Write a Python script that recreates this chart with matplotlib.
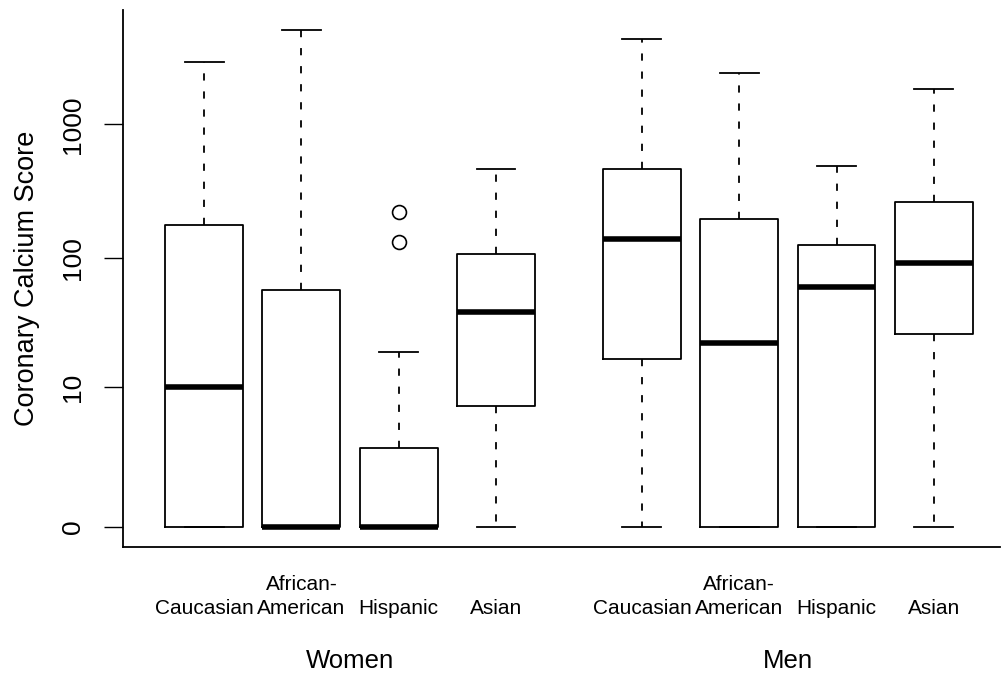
import matplotlib
matplotlib.use("Agg")
import matplotlib.pyplot as plt
import matplotlib.transforms as mtransforms
import numpy as np

plt.rcParams["font.family"] = ["Liberation Sans", "DejaVu Sans"]

# Coronary calcium score box summaries
categories = ["\nCaucasian", "African-\nAmerican", "\nHispanic", "\nAsian"]
groups = ["Women", "Men"]

women_med = [10, 0, 0, 39]
women_q1 = [0, 0, 0, 7]
women_q3 = [177, 57, 2.9, 108]
women_whislo = [0, 0, 0, 0]
women_whishi = [2930, 5050, 19, 464]
women_fliers = [[], [], [132, 221], []]

men_med = [139, 22.5, 60, 92]
men_q1 = [17, 0, 0, 26.4]
men_q3 = [464, 196, 125, 263]
men_whislo = [0, 0, 0, 0]
men_whishi = [4330, 2415, 486, 1844]
men_fliers = [[], [], [], []]

yticks = [0, 10, 100, 1000]


def make_stats(med, q1, q3, lo, hi, fl):
    return [dict(med=m, q1=a, q3=b, whislo=c, whishi=d, fliers=f)
            for m, a, b, c, d, f in zip(med, q1, q3, lo, hi, fl)]


stats = (make_stats(women_med, women_q1, women_q3, women_whislo, women_whishi, women_fliers)
         + make_stats(men_med, men_q1, men_q3, men_whislo, men_whishi, men_fliers))
positions = [1, 2, 3, 4, 5.5, 6.5, 7.5, 8.5]

fig = plt.figure(figsize=(10.06, 6.73), dpi=100)
ax = fig.add_axes([123 / 1006, 1 - 547 / 673, 877 / 1006, 537 / 673])

# score axis is log10(score + 1)
ax.set_yscale("function", functions=(lambda v: np.log10(np.maximum(v + 1, 1e-6)),
                                     lambda v: 10 ** v - 1))

lw = 1.3
ax.bxp(stats, positions=positions, widths=0.8, capwidths=0.4,
       boxprops=dict(color="black", linewidth=lw),
       whiskerprops=dict(color="black", linewidth=lw, linestyle=(0, (4, 6))),
       capprops=dict(color="black", linewidth=lw),
       medianprops=dict(color="black", linewidth=4, solid_capstyle="butt"),
       flierprops=dict(marker="o", markerfacecolor="none", markeredgecolor="black",
                       markersize=10, markeredgewidth=1.2),
       manage_ticks=False)

ax.set_xlim(0.167, 9.18)
ax.set_ylim(10 ** -0.149 - 1, 10 ** 3.852 - 1)

ax.set_yticks(yticks)
ax.set_yticklabels([str(t) for t in yticks])
ax.yaxis.set_minor_locator(matplotlib.ticker.NullLocator())
ax.tick_params(axis="y", length=13.5, width=1, labelsize=19, pad=14)
plt.setp(ax.get_yticklabels(), rotation=90, va="center")

ax.set_xticks(positions)
ax.set_xticklabels(categories * 2, linespacing=1.35)
ax.tick_params(axis="x", length=0, labelsize=15, pad=20)

ax.spines["top"].set_visible(False)
ax.spines["right"].set_visible(False)
for s in ("left", "bottom"):
    ax.spines[s].set_linewidth(1.3)

ax.set_ylabel("Coronary Calcium Score", fontsize=19.5)
ax.yaxis.set_label_coords(-0.095, 0.5)

trans = mtransforms.blended_transform_factory(ax.transData, ax.transAxes)
for x, g in zip([2.5, 7.0], groups):
    ax.text(x, -0.2253, g, transform=trans, ha="center", va="baseline", fontsize=18.5)

fig.savefig("out.png", dpi=100)
